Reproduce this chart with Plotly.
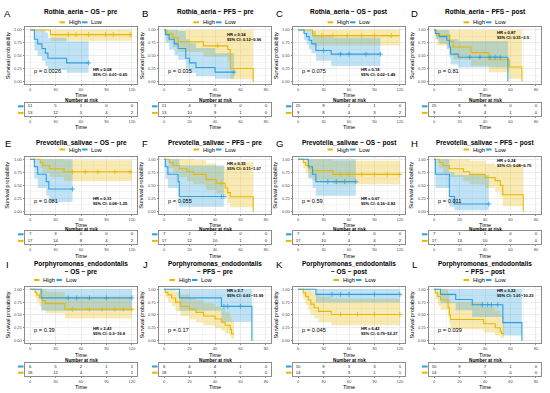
import numpy as np
import plotly.graph_objects as go

# ======================= DATA =======================
panel_ids = ["A", "B", "C", "D", "E", "F", "G", "H", "I", "J", "K", "L"]
panel_titles = [
    "Rothia_aeria − OS − pre", "Rothia_aeria − PFS − pre",
    "Rothia_aeria − OS − post", "Rothia_aeria − PFS − post",
    "Prevotella_salivae − OS − pre", "Prevotella_salivae − PFS − pre",
    "Prevotella_salivae − OS − post", "Prevotella_salivae − PFS − post",
    "Porphyromonas_endodontalis<br>− OS − pre", "Porphyromonas_endodontalis<br>− PFS − pre",
    "Porphyromonas_endodontalis<br>− OS − post", "Porphyromonas_endodontalis<br>− PFS − post",
]
panel_kind = ["OS", "PFS", "OS", "PFS"] * 3
p_labels = ["p = 0.0026", "p = 0.035", "p = 0.075", "p = 0.81",
            "p = 0.081", "p = 0.055", "p = 0.59", "p = 0.011",
            "p = 0.39", "p = 0.17", "p = 0.045", "p = 0.039"]
hr_labels = ["HR = 0.08", "HR = 0.34", "HR = 0.18", "HR = 0.87",
             "HR = 0.31", "HR = 0.35", "HR = 0.67", "HR = 0.24",
             "HR = 2.43", "HR = 2.7", "HR = 6.42", "HR = 3.22"]
ci_labels = ["95% CI: 0.01−0.65", "95% CI: 0.12−0.96", "95% CI: 0.02−1.49", "95% CI: 0.31−2.5",
             "95% CI: 0.08−1.25", "95% CI: 0.11−1.07", "95% CI: 0.16−2.82", "95% CI: 0.08−0.75",
             "95% CI: 0.3−19.8", "95% CI: 0.61−11.99", "95% CI: 0.79−52.27", "95% CI: 1.01−10.23"]
os_ticks = [0, 30, 60, 90, 120]
pfs_ticks = [0, 20, 40, 60, 80]
group_names = ["High", "Low"]

# --- A: Rothia_aeria OS pre
A_high_time = [0, 24, 120]
A_high_surv = [1, 0.91, 0.91]
A_high_lower = [1, 0.79, 0.79]
A_high_upper = [1, 1, 1]
A_high_censor = [45, 54, 69, 89, 98, 118]
A_low_time = [0, 5, 9, 14, 18, 21, 43, 69]
A_low_surv = [1, 0.82, 0.73, 0.64, 0.55, 0.45, 0.36, 0.36]
A_low_lower = [1, 0.6, 0.5, 0.4, 0.3, 0.22, 0.17, 0.17]
A_low_upper = [1, 1, 1, 1, 0.95, 0.85, 0.78, 0.78]
A_low_censor = [69]
A_risk_low = [11, 5, 1, 0, 0]
A_risk_high = [13, 12, 5, 4, 2]

# --- B: Rothia_aeria PFS pre
B_high_time = [0, 2, 7, 11, 31, 50, 52, 70]
B_high_surv = [1, 0.92, 0.85, 0.77, 0.69, 0.62, 0.25, 0]
B_high_lower = [1, 0.78, 0.67, 0.57, 0.48, 0.4, 0.04, 0]
B_high_upper = [1, 1, 1, 1, 1, 1, 1, 0]
B_high_censor = [42]
B_low_time = [0, 1, 4, 8, 11, 17, 20, 25, 40, 55]
B_low_surv = [1, 0.91, 0.82, 0.73, 0.64, 0.45, 0.36, 0.27, 0.18, 0.18]
B_low_lower = [1, 0.75, 0.62, 0.51, 0.42, 0.25, 0.17, 0.1, 0.05, 0.05]
B_low_upper = [1, 1, 1, 1, 0.98, 0.82, 0.74, 0.65, 0.55, 0.55]
B_low_censor = [55]
B_risk_low = [11, 4, 3, 0, 0]
B_risk_high = [13, 10, 9, 1, 0]

# --- C: Rothia_aeria OS post
C_high_time = [0, 17, 120]
C_high_surv = [1, 0.89, 0.89]
C_high_lower = [1, 0.7, 0.7]
C_high_upper = [1, 1, 1]
C_high_censor = [28, 41, 58, 75, 90, 110]
C_low_time = [0, 7, 10, 13, 16, 21, 39, 97]
C_low_surv = [1, 0.93, 0.87, 0.8, 0.73, 0.6, 0.53, 0.53]
C_low_lower = [1, 0.8, 0.72, 0.63, 0.55, 0.4, 0.3, 0.3]
C_low_upper = [1, 1, 1, 1, 0.98, 0.88, 0.85, 0.85]
C_low_censor = [30, 50, 60, 80, 97]
C_risk_low = [15, 9, 2, 1, 0]
C_risk_high = [9, 8, 4, 3, 2]

# --- D: Rothia_aeria PFS post
D_high_time = [0, 2, 12, 15, 29, 43, 59, 69]
D_high_surv = [1, 0.89, 0.78, 0.67, 0.56, 0.42, 0.28, 0]
D_high_lower = [1, 0.7, 0.55, 0.42, 0.3, 0.18, 0.05, 0]
D_high_upper = [1, 1, 1, 1, 1, 1, 1, 0]
D_high_censor = []
D_low_time = [0, 1, 4, 10, 12, 13, 19, 58]
D_low_surv = [1, 0.93, 0.87, 0.8, 0.67, 0.53, 0.47, 0]
D_low_lower = [1, 0.82, 0.73, 0.63, 0.47, 0.33, 0.27, 0]
D_low_upper = [1, 1, 1, 1, 0.93, 0.82, 0.78, 0]
D_low_censor = [28, 36, 44, 48, 52]
D_risk_low = [15, 8, 8, 0, 0]
D_risk_high = [9, 6, 4, 1, 0]

# --- E: Prevotella_salivae OS pre
E_high_time = [0, 12, 15, 23, 40, 120]
E_high_surv = [1, 0.94, 0.88, 0.82, 0.76, 0.76]
E_high_lower = [1, 0.83, 0.74, 0.66, 0.58, 0.58]
E_high_upper = [1, 1, 1, 1, 0.98, 0.98]
E_high_censor = [50, 65, 80, 100, 118]
E_low_time = [0, 5, 9, 19, 22, 50]
E_low_surv = [1, 0.857, 0.714, 0.571, 0.429, 0.429]
E_low_lower = [1, 0.63, 0.45, 0.3, 0.18, 0.18]
E_low_upper = [1, 1, 1, 1, 1, 1]
E_low_censor = [50]
E_risk_low = [7, 3, 0, 0, 0]
E_risk_high = [17, 14, 8, 4, 2]

# --- F: Prevotella_salivae PFS pre
F_high_time = [0, 4, 7, 12, 18, 23, 33, 41, 48, 50, 52, 70]
F_high_surv = [1, 0.94, 0.88, 0.82, 0.76, 0.71, 0.61, 0.54, 0.45, 0.36, 0.28, 0]
F_high_lower = [1, 0.83, 0.74, 0.66, 0.58, 0.52, 0.41, 0.34, 0.25, 0.16, 0.08, 0]
F_high_upper = [1, 1, 1, 1, 1, 0.98, 0.92, 0.86, 0.82, 0.8, 0.95, 0]
F_high_censor = [45]
F_low_time = [0, 1, 3, 11, 12, 47]
F_low_surv = [1, 0.857, 0.714, 0.571, 0.286, 0.286]
F_low_lower = [1, 0.63, 0.45, 0.3, 0.09, 0.09]
F_low_upper = [1, 1, 1, 1, 0.88, 0.88]
F_low_censor = [45, 47]
F_risk_low = [7, 2, 2, 0, 0]
F_risk_high = [17, 12, 10, 1, 0]

# --- G: Prevotella_salivae OS post
G_high_time = [0, 6, 9, 13, 17, 41, 120]
G_high_surv = [1, 0.94, 0.88, 0.82, 0.78, 0.71, 0.71]
G_high_lower = [1, 0.83, 0.74, 0.66, 0.6, 0.52, 0.52]
G_high_upper = [1, 1, 1, 1, 1, 0.97, 0.97]
G_high_censor = [50, 60, 75, 90, 105, 120]
G_low_time = [0, 12, 17, 21, 68]
G_low_surv = [1, 0.857, 0.714, 0.571, 0.571]
G_low_lower = [1, 0.63, 0.45, 0.3, 0.3]
G_low_upper = [1, 1, 1, 1, 1]
G_low_censor = [35, 45, 55, 68]
G_risk_low = [7, 4, 2, 0, 0]
G_risk_high = [17, 10, 4, 4, 2]

# --- H: Prevotella_salivae PFS post
H_high_time = [0, 4, 7, 12, 23, 28, 40, 48, 52, 54, 70]
H_high_surv = [1, 0.94, 0.88, 0.82, 0.76, 0.71, 0.65, 0.59, 0.5, 0.32, 0]
H_high_lower = [1, 0.83, 0.74, 0.66, 0.58, 0.52, 0.45, 0.38, 0.28, 0.1, 0]
H_high_upper = [1, 1, 1, 1, 1, 0.97, 0.92, 0.87, 0.85, 0.9, 0]
H_high_censor = []
H_low_time = [0, 1, 12, 16, 43]
H_low_surv = [1, 0.714, 0.286, 0.143, 0.143]
H_low_lower = [1, 0.45, 0.09, 0.02, 0.02]
H_low_upper = [1, 1, 0.75, 0.7, 0.7]
H_low_censor = [43]
H_risk_low = [7, 1, 1, 0, 0]
H_risk_high = [17, 13, 10, 0, 0]

# --- I: Porphyromonas_endodontalis OS pre
I_high_time = [0, 6, 8, 11, 14, 18, 41, 120]
I_high_surv = [1, 0.94, 0.89, 0.83, 0.78, 0.72, 0.61, 0.61]
I_high_lower = [1, 0.84, 0.75, 0.67, 0.6, 0.53, 0.43, 0.43]
I_high_upper = [1, 1, 1, 1, 1, 0.95, 0.86, 0.86]
I_high_censor = [50, 70, 85, 100, 110, 120]
I_low_time = [0, 13, 120]
I_low_surv = [1, 0.833, 0.833]
I_low_lower = [1, 0.58, 0.58]
I_low_upper = [1, 1, 1]
I_low_censor = [45, 55, 70, 90, 120]
I_risk_low = [6, 5, 2, 1, 1]
I_risk_high = [18, 12, 4, 3, 1]

# --- J: Porphyromonas_endodontalis PFS pre
J_high_time = [0, 1, 3, 6, 9, 13, 20, 25, 31, 40, 45, 48, 52, 53, 55]
J_high_surv = [1, 0.94, 0.89, 0.83, 0.75, 0.67, 0.61, 0.55, 0.48, 0.42, 0.36, 0.3, 0.22, 0.13, 0.13]
J_high_lower = [1, 0.84, 0.75, 0.67, 0.57, 0.48, 0.41, 0.36, 0.3, 0.24, 0.19, 0.14, 0.08, 0.03, 0.03]
J_high_upper = [1, 1, 1, 1, 0.95, 0.9, 0.84, 0.79, 0.73, 0.67, 0.62, 0.55, 0.47, 0.38, 0.38]
J_high_censor = []
J_low_time = [0, 12, 45, 69]
J_low_surv = [1, 0.833, 0.667, 0]
J_low_lower = [1, 0.58, 0.37, 0]
J_low_upper = [1, 1, 1, 0]
J_low_censor = [47, 50, 60]
J_risk_low = [6, 4, 4, 1, 0]
J_risk_high = [18, 10, 8, 0, 0]

# --- K: Porphyromonas_endodontalis OS post
K_high_time = [0, 6, 9, 12, 15, 19, 24, 39, 120]
K_high_surv = [1, 0.93, 0.86, 0.79, 0.71, 0.64, 0.57, 0.51, 0.51]
K_high_lower = [1, 0.8, 0.69, 0.6, 0.5, 0.43, 0.36, 0.3, 0.3]
K_high_upper = [1, 1, 1, 1, 0.96, 0.92, 0.86, 0.82, 0.82]
K_high_censor = [50, 70, 90, 120]
K_low_time = [0, 21, 120]
K_low_surv = [1, 0.9, 0.9]
K_low_lower = [1, 0.74, 0.74]
K_low_upper = [1, 1, 1]
K_low_censor = [40, 50, 60, 90, 120]
K_risk_low = [10, 9, 3, 3, 1]
K_risk_high = [14, 8, 3, 1, 1]

# --- L: Porphyromonas_endodontalis PFS post
L_high_time = [0, 1, 3, 5, 11, 12, 13, 39, 48, 52, 53, 55]
L_high_surv = [1, 0.93, 0.86, 0.79, 0.64, 0.5, 0.41, 0.33, 0.25, 0.18, 0.14, 0.14]
L_high_lower = [1, 0.8, 0.69, 0.6, 0.45, 0.33, 0.22, 0.16, 0.1, 0.06, 0.04, 0.04]
L_high_upper = [1, 1, 1, 1, 0.92, 0.8, 0.75, 0.66, 0.58, 0.5, 0.47, 0.47]
L_high_censor = []
L_low_time = [0, 5, 17, 30, 54, 69]
L_low_surv = [1, 0.9, 0.8, 0.7, 0.35, 0]
L_low_lower = [1, 0.73, 0.59, 0.46, 0.1, 0]
L_low_upper = [1, 1, 1, 1, 1, 0]
L_low_censor = [38, 42, 45, 50]
L_risk_low = [10, 9, 7, 1, 0]
L_risk_high = [14, 5, 5, 0, 0]

# ======================= STYLE / LAYOUT =======================
W, H = 550, 393
FONT = "Liberation Sans, Arial, sans-serif"
COLORS = {"High": "#E7B800", "Low": "#2E9FDF"}
FILLS = {"High": "rgba(231,184,0,0.3)", "Low": "rgba(46,159,223,0.3)"}
COL_X = [(25, 137), (159, 271), (293, 405), (429, 541)]
ROW_MAIN = [(27.4, 84.0), (156.7, 214.0), (286.7, 343.2)]
ROW_TAB = [(103.0, 116.2), (231.0, 244.2), (363.4, 375.8)]
TITLE_Y = [12.3, 143.3, 268.0]
LEGEND_Y = [22.3, 149.5, 280.0]
LETTER_Y = [13.0, 144.0, 264.0]
LETTER_X = [7.5, 145.0, 279.5, 414.5]
TIME_Y = [95.0, 225.0, 354.6]
NRISK_Y = [100.4, 229.0, 360.2]
TIME2_Y = [126.7, 255.8, 387.3]
LEGEND_CX = {"I": 55.5, "J": 191.0, "K": 355.0}
HR_Y_PFS = {"B": 0.87, "D": 0.9, "F": 0.87, "H": 0.92, "J": 0.93, "L": 0.92}
GRID = "#EBEBEB"
MINOR = "#F5F5F5"
BORDER = "#8C8C8C"


def px(x):
    return x / W


def py(y):
    return 1 - y / H


def step_value(times, values, t):
    idx = int(np.searchsorted(np.asarray(times), t, side="right")) - 1
    return values[max(idx, 0)]


fig = go.Figure()
annotations = []
shapes = []
layout_axes = {}
g = globals()

for i, pid in enumerate(panel_ids):
    r, c = divmod(i, 4)
    xl, xr = COL_X[c]
    yt, yb = ROW_MAIN[r]
    tt, tb = ROW_TAB[r]
    nm, nt = 2 * i + 1, 2 * i + 2
    xm = "x" if nm == 1 else f"x{nm}"
    ym = "y" if nm == 1 else f"y{nm}"
    xt, yt_ = f"x{nt}", f"y{nt}"
    kind = panel_kind[i]
    ticks = os_ticks if kind == "OS" else pfs_ticks
    xmax = ticks[-1]
    dt = ticks[1] - ticks[0]
    xrange = [-0.05 * xmax, 1.05 * xmax]

    curves = {}
    for grp in group_names:
        k = f"{pid}_{grp.lower()}"
        curves[grp] = dict(t=g[k + "_time"], s=g[k + "_surv"], lo=g[k + "_lower"],
                           hi=g[k + "_upper"], cens=g[k + "_censor"])

    # confidence ribbons
    for grp in group_names:
        cv = curves[grp]
        fig.add_trace(go.Scatter(x=cv["t"], y=cv["lo"], mode="lines",
                                 line=dict(width=0, shape="hv"), xaxis=xm, yaxis=ym,
                                 showlegend=False, hoverinfo="skip"))
        fig.add_trace(go.Scatter(x=cv["t"], y=cv["hi"], mode="lines",
                                 line=dict(width=0, shape="hv"), fill="tonexty",
                                 fillcolor=FILLS[grp], xaxis=xm, yaxis=ym,
                                 showlegend=False, hoverinfo="skip"))
    # survival curves
    for grp in group_names:
        cv = curves[grp]
        fig.add_trace(go.Scatter(x=cv["t"], y=cv["s"], mode="lines",
                                 line=dict(width=1.1, shape="hv", color=COLORS[grp]),
                                 xaxis=xm, yaxis=ym, showlegend=False))
    # censor marks
    for grp in group_names:
        cv = curves[grp]
        if len(cv["cens"]):
            ys = [step_value(cv["t"], cv["s"], t) for t in cv["cens"]]
            fig.add_trace(go.Scatter(x=cv["cens"], y=ys, mode="markers",
                                     marker=dict(symbol="cross-thin", size=3.5,
                                                 line=dict(width=0.8, color=COLORS[grp])),
                                     xaxis=xm, yaxis=ym, showlegend=False))
    # risk table
    for grp, yrow in (("Low", 2), ("High", 1)):
        vals = g[f"{pid}_risk_{grp.lower()}"]
        fig.add_trace(go.Scatter(x=ticks, y=[yrow] * len(ticks), text=[str(v) for v in vals],
                                 mode="text", textfont=dict(size=4.3, color="#222", family=FONT),
                                 xaxis=xt, yaxis=yt_, showlegend=False, hoverinfo="skip"))

    common = dict(showline=True, linecolor=BORDER, linewidth=0.6, mirror=True, zeroline=False,
                  ticks="outside", ticklen=1.5, tickwidth=0.5, tickcolor=BORDER,
                  tickfont=dict(size=4.1, color="#4D4D4D", family=FONT))
    mx = dict(common)
    mx.update(ticklen=1)
    layout_axes["xaxis" if nm == 1 else f"xaxis{nm}"] = dict(
        domain=[px(xl), px(xr)], range=xrange, anchor=ym, tickmode="linear", tick0=0, dtick=dt,
        showgrid=True, gridcolor=GRID, gridwidth=0.6,
        minor=dict(dtick=dt / 2, showgrid=True, gridcolor=MINOR, gridwidth=0.4, ticks=""),
        **mx)
    layout_axes["yaxis" if nm == 1 else f"yaxis{nm}"] = dict(
        domain=[py(yb), py(yt)], range=[-0.05, 1.05], anchor=xm, tickmode="linear", tick0=0,
        dtick=0.25, tickformat=".2f", showgrid=True, gridcolor=GRID, gridwidth=0.6,
        minor=dict(dtick=0.125, showgrid=True, gridcolor=MINOR, gridwidth=0.4, ticks=""),
        **common)
    layout_axes[f"xaxis{nt}"] = dict(
        domain=[px(xl), px(xr)], range=xrange, anchor=yt_, tickmode="linear", tick0=0, dtick=dt,
        showgrid=False, **mx)
    tcommon = dict(common)
    tcommon.update(ticks="", showticklabels=False)
    layout_axes[f"yaxis{nt}"] = dict(domain=[py(tb), py(tt)], range=[0.5, 2.5], anchor=xt,
                                     showgrid=False, **tcommon)

    cx = (xl + xr) / 2
    # panel letter
    annotations.append(dict(x=px(LETTER_X[c]), y=py(LETTER_Y[r]), xref="paper", yref="paper",
                            text=pid, showarrow=False, xanchor="center", yanchor="middle",
                            font=dict(size=9.5, color="#000", family=FONT)))
    # title
    annotations.append(dict(x=px(cx), y=py(TITLE_Y[r]), xref="paper", yref="paper",
                            text=f"<b>{panel_titles[i]}</b>", showarrow=False,
                            xanchor="center", yanchor="middle",
                            font=dict(size=6.5, color="#000", family=FONT)))
    # legend
    lcx = LEGEND_CX.get(pid, cx)
    ly = LEGEND_Y[r]
    shapes.append(dict(type="line", xref="paper", yref="paper", x0=px(lcx - 21.5), x1=px(lcx - 16),
                       y0=py(ly), y1=py(ly), line=dict(color=COLORS["High"], width=2)))
    shapes.append(dict(type="line", xref="paper", yref="paper", x0=px(lcx + 1), x1=px(lcx + 6.5),
                       y0=py(ly), y1=py(ly), line=dict(color=COLORS["Low"], width=2)))
    annotations.append(dict(x=px(lcx - 14.5), y=py(ly), xref="paper", yref="paper", text="High",
                            showarrow=False, xanchor="left", yanchor="middle",
                            font=dict(size=5.8, color="#000", family=FONT)))
    annotations.append(dict(x=px(lcx + 8), y=py(ly), xref="paper", yref="paper", text="Low",
                            showarrow=False, xanchor="left", yanchor="middle",
                            font=dict(size=5.8, color="#000", family=FONT)))
    # y-axis title
    annotations.append(dict(x=px(xl - 17.5), y=py((yt + yb) / 2), xref="paper", yref="paper",
                            text="Survival probability", textangle=-90, showarrow=False,
                            xanchor="center", yanchor="middle",
                            font=dict(size=5.6, color="#000", family=FONT)))
    # x titles
    for yy, txt, fs in ((TIME_Y[r], "Time", 5.5), (NRISK_Y[r], "<b>Number at risk</b>", 4.7),
                        (TIME2_Y[r], "Time", 5.5)):
        annotations.append(dict(x=px(cx), y=py(yy), xref="paper", yref="paper", text=txt,
                                showarrow=False, xanchor="center", yanchor="middle",
                                font=dict(size=fs, color="#000", family=FONT)))
    # risk table strata dashes
    for grp, yrow in (("Low", 2), ("High", 1)):
        yy = tt + (tb - tt) * (2.5 - yrow) / 2.0
        shapes.append(dict(type="line", xref="paper", yref="paper", x0=px(xl - 7), x1=px(xl - 1.5),
                           y0=py(yy), y1=py(yy), line=dict(color=COLORS[grp], width=2)))
    # p-value
    annotations.append(dict(x=0.02 * xmax, y=0.2, xref=xm, yref=ym, text=p_labels[i],
                            showarrow=False, xanchor="left", yanchor="middle",
                            font=dict(size=5.7, color="#000", family=FONT)))
    # HR annotation
    if kind == "OS":
        hx, hy = 0.6 * xmax, 0.19
    else:
        hx, hy = 0.6 * xmax, HR_Y_PFS[pid]
    annotations.append(dict(x=hx, y=hy, xref=xm, yref=ym,
                            text=f"<b>{hr_labels[i]}<br>{ci_labels[i]}</b>", align="left",
                            showarrow=False, xanchor="left", yanchor="middle",
                            font=dict(size=4.1, color="#000", family=FONT)))

fig.update_layout(
    width=W, height=H, autosize=False,
    margin=dict(l=0, r=0, t=0, b=0),
    paper_bgcolor="white", plot_bgcolor="white",
    showlegend=False,
    font=dict(family=FONT, size=6, color="#000"),
    annotations=annotations, shapes=shapes,
    **layout_axes,
)

fig.write_html("out.html", config={"displayModeBar": False},
               post_script="document.body.style.margin='0';")
